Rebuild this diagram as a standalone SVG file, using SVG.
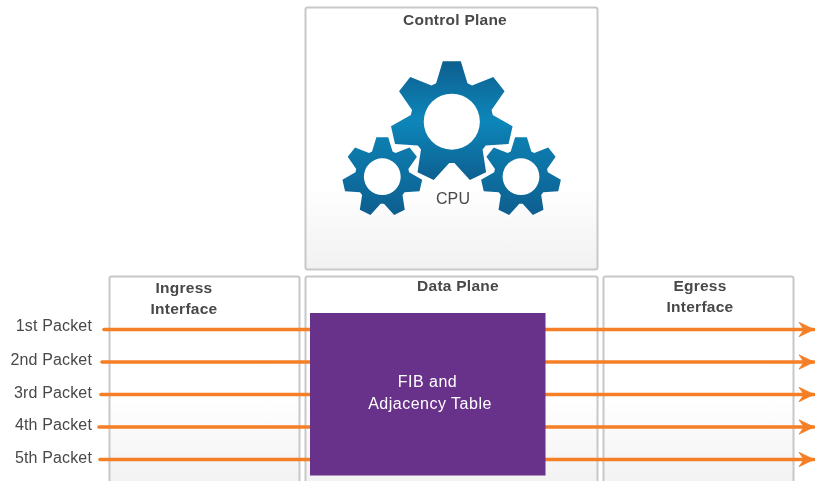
<svg xmlns="http://www.w3.org/2000/svg" xmlns:xlink="http://www.w3.org/1999/xlink" width="815" height="481" viewBox="0 0 815 481">
<style>
text{font-family:"Liberation Sans",Arial,sans-serif;font-size:16px;fill:#484848;letter-spacing:.15px}
.t{font-weight:bold;text-anchor:middle;font-size:15.500px;letter-spacing:.25px}
.l{text-anchor:end}
.m{text-anchor:middle}
.panel{stroke:#c8c8c8;stroke-width:2}
.w{fill:#fff;text-anchor:middle;font-size:16px;letter-spacing:.5px}
.c{fill:none;stroke:#f57f25;stroke-width:3.6;stroke-linecap:round}
</style>
<defs>
<filter id="soft" x="0" y="0" width="100%" height="100%" filterUnits="objectBoundingBox"><feGaussianBlur stdDeviation=".45"/></filter>
<linearGradient id="pa" x1="0" y1="0" x2="0" y2="1"><stop offset="0.68" stop-color="#fff"/><stop offset="1" stop-color="#f1f1f1"/></linearGradient>
<linearGradient id="pb" x1="0" y1="0" x2="0" y2="1"><stop offset="0.55" stop-color="#fff"/><stop offset="1" stop-color="#f0f0f0"/></linearGradient>
<linearGradient id="gb" x1="0" y1="0" x2="0" y2="1"><stop offset="0" stop-color="#0c5f8e"/><stop offset="0.5" stop-color="#1186ba"/><stop offset="1" stop-color="#0c6090"/></linearGradient>
<linearGradient id="gs" x1="0" y1="0" x2="0" y2="1"><stop offset="0" stop-color="#0f7fb1"/><stop offset="1" stop-color="#0b5f8f"/></linearGradient>
<path id="gear" fill-rule="evenodd" stroke-linejoin="round" d="M-25.700-63L-14.800-98.900L14.800-98.900L25.700-63L33.200-59.300L68.100-73.200L86.500-50.100L65.200-19.200L67.100-11L99.700 7.600L93.100 36.400L55.700 39.100L50.500 45.600L56.200 82.700L29.600 95.500L4.200 67.900L-4.200 67.900L-29.600 95.500L-56.200 82.700L-50.500 45.600L-55.700 39.100L-93.100 36.400L-99.700 7.600L-67.100-11L-65.200-19.200L-86.500-50.100L-68.100-73.200L-33.200-59.300ZM-46 0A46 46 0 1 0 46 0A46 46 0 1 0-46 0Z"/>
<marker id="arrow" markerUnits="userSpaceOnUse" markerWidth="16" markerHeight="16" refX="15" refY="8" orient="auto" overflow="visible"><path d="M0 .800L15 8L0 15.200L5 8Z" fill="#f57f25" stroke="#f57f25" stroke-width=".8" stroke-linejoin="round"/></marker>
</defs>
<rect width="815" height="481" fill="#fff"/>
<g filter="url(#soft)">
<rect width="815" height="481" fill="#fff"/>
<g id="control-plane">
<rect class="panel" x="305.500" y="7.500" width="292" height="262" rx="2" fill="url(#pa)"/>
<text class="t" x="455" y="25">Control Plane</text>
<g id="cpu">
<use xlink:href="#gear" href="#gear" transform="translate(451.800 121.700) scale(.61)" fill="url(#gb)"/>
<use xlink:href="#gear" href="#gear" transform="translate(382.300 176.700) scale(.4)" fill="url(#gs)"/>
<use xlink:href="#gear" href="#gear" transform="translate(521 176.700) scale(.4)" fill="url(#gs)"/>
<text class="m" x="453" y="204">CPU</text>
</g>
</g>
<g id="ingress-interface">
<rect class="panel" x="109.500" y="276.500" width="190" height="220" rx="2" fill="url(#pb)"/>
<text class="t" x="184" y="293">Ingress</text>
<text class="t" x="184" y="314">Interface</text>
</g>
<g id="data-plane">
<rect class="panel" x="305.500" y="276.500" width="292" height="220" rx="2" fill="url(#pb)"/>
<text class="t" x="458" y="291">Data Plane</text>
</g>
<g id="egress-interface">
<rect class="panel" x="603.500" y="276.500" width="190" height="220" rx="2" fill="url(#pb)"/>
<text class="t" x="700" y="291">Egress</text>
<text class="t" x="700" y="312">Interface</text>
</g>
<g id="connectors">
<line class="c" x1="104" y1="329.500" x2="814" y2="329.500" marker-end="url(#arrow)"/>
<line class="c" x1="102" y1="362" x2="814" y2="362" marker-end="url(#arrow)"/>
<line class="c" x1="101" y1="394.500" x2="814" y2="394.500" marker-end="url(#arrow)"/>
<line class="c" x1="99" y1="427" x2="814" y2="427" marker-end="url(#arrow)"/>
<line class="c" x1="100" y1="459.500" x2="814" y2="459.500" marker-end="url(#arrow)"/>
</g>
<g id="fib-adjacency-table">
<rect x="310" y="313" width="235.500" height="162.500" fill="#68308a"/>
<text class="w" x="427.500" y="387">FIB and</text>
<text class="w" x="430" y="409">Adjacency Table</text>
</g>
<g id="packet-labels">
<text class="l" x="92" y="331">1st Packet</text>
<text class="l" x="92" y="365">2nd Packet</text>
<text class="l" x="92" y="398">3rd Packet</text>
<text class="l" x="92" y="430">4th Packet</text>
<text class="l" x="92" y="463">5th Packet</text>
</g>
</g>
</svg>
